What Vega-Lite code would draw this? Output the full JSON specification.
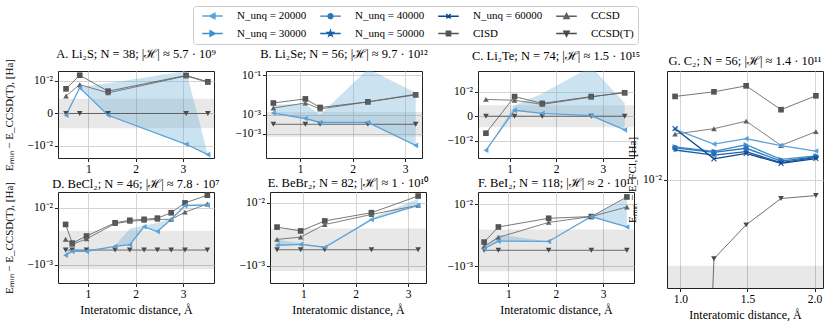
{
"$schema": "https://vega.github.io/schema/vega-lite/v6.json",
"padding": {"left": 2, "top": 5, "right": 2, "bottom": 2},
"config": {
 "font": "Liberation Serif",
 "view": {"stroke": "#222222", "strokeWidth": 1},
 "title": {"font": "Liberation Serif", "fontSize": 12.5, "fontWeight": "normal", "offset": 9, "color": "#000000"},
 "axis": {"labelFont": "Liberation Serif", "titleFont": "Liberation Serif", "labelFontSize": 11.5, "titleFontSize": 11, "titleFontWeight": "normal", "domain": false, "tickColor": "#222222", "tickSize": 3.5, "labelPadding": 2, "labelOverlap": false, "labelSeparation": -30, "labelColor": "#000000", "titleColor": "#000000", "gridColor": "#d4d4d4", "gridWidth": 1},
 "legend": {"labelFont": "Liberation Serif", "labelFontSize": 11, "labelColor": "#000000"}
},
"datasets": {
 "legend": [{"lab":"N_unq = 20000"},{"lab":"N_unq = 40000"},{"lab":"N_unq = 60000"},{"lab":"CCSD "},{"lab":"N_unq = 30000"},{"lab":"N_unq = 50000"},{"lab":"CISD "},{"lab":"CCSD(T) "}],
 "A": [
  {"x":0.53,"s":"CISD","v":0.0047},{"x":0.82,"s":"CISD","v":0.017},{"x":1.42,"s":"CISD","v":0.0037},{"x":3.07,"s":"CISD","v":0.0167},{"x":3.53,"s":"CISD","v":0.0093},
  {"x":0.53,"s":"CCSD","v":0.0022},{"x":0.82,"s":"CCSD","v":0.0071},{"x":1.42,"s":"CCSD","v":0.0031},{"x":3.07,"s":"CCSD","v":0.016},{"x":3.53,"s":"CCSD","v":0.0088},
  {"x":0.53,"s":"CCSD(T)","v":0},{"x":0.82,"s":"CCSD(T)","v":0},{"x":1.42,"s":"CCSD(T)","v":0},{"x":3.07,"s":"CCSD(T)","v":0},{"x":3.53,"s":"CCSD(T)","v":0},
  {"x":0.53,"s":"20000","v":-0.0001},{"x":0.82,"s":"20000","v":0.0052},{"x":1.42,"s":"20000","v":-0.0001},{"x":3.07,"s":"20000","v":-0.0085},{"x":3.53,"s":"20000","v":-0.022}
 ],
 "A_band": [{"x":0.53,"lo":-0.0001,"hi":0},{"x":0.82,"lo":0.0052,"hi":0.0055},{"x":1.42,"lo":-0.0001,"hi":0.008},{"x":3.07,"lo":-0.0085,"hi":0.025},{"x":3.53,"lo":-0.022,"hi":-0.022}],
 "B": [
  {"x":0.49,"s":"CISD","v":0.005},{"x":1.10,"s":"CISD","v":0.008},{"x":1.38,"s":"CISD","v":0.0029},{"x":2.29,"s":"CISD","v":0.0057},{"x":3.2,"s":"CISD","v":0.0125},
  {"x":0.49,"s":"CCSD","v":0.0027},{"x":1.10,"s":"CCSD","v":0.005},{"x":1.38,"s":"CCSD","v":0.0024},{"x":2.29,"s":"CCSD","v":0.0057},{"x":3.2,"s":"CCSD","v":0.0135},
  {"x":0.49,"s":"CCSD(T)","v":0},{"x":1.10,"s":"CCSD(T)","v":0},{"x":1.38,"s":"CCSD(T)","v":0},{"x":2.29,"s":"CCSD(T)","v":0},{"x":3.2,"s":"CCSD(T)","v":0},
  {"x":0.49,"s":"20000","v":0.00135},{"x":1.10,"s":"20000","v":0.0005},{"x":1.38,"s":"20000","v":0.000125},{"x":2.29,"s":"20000","v":0.000125},{"x":3.2,"s":"20000","v":-0.0049}
 ],
 "B_band": [{"x":0.49,"lo":0.00135,"hi":0.004},{"x":1.10,"lo":0.0005,"hi":0.0045},{"x":1.38,"lo":0.000125,"hi":0.001},{"x":2.29,"lo":0.000125,"hi":0.2},{"x":3.2,"lo":-0.0049,"hi":0.016}],
 "C": [
  {"x":0.49,"s":"CISD","v":-0.0038},{"x":1.105,"s":"CISD","v":0.0054},{"x":1.70,"s":"CISD","v":0.0021},{"x":2.75,"s":"CISD","v":0.0054},{"x":3.47,"s":"CISD","v":0.0087},
  {"x":0.49,"s":"CCSD","v":0.0037},{"x":1.105,"s":"CCSD","v":0.0033},{"x":1.70,"s":"CCSD","v":0.0018},{"x":2.75,"s":"CCSD","v":0.0051},{"x":3.47,"s":"CCSD","v":0.0095},
  {"x":0.49,"s":"CCSD(T)","v":0},{"x":1.105,"s":"CCSD(T)","v":0},{"x":1.70,"s":"CCSD(T)","v":0},{"x":2.75,"s":"CCSD(T)","v":0},{"x":3.47,"s":"CCSD(T)","v":0},
  {"x":0.49,"s":"20000","v":-0.032},{"x":1.105,"s":"20000","v":0.0006},{"x":1.70,"s":"20000","v":0.00024},{"x":2.75,"s":"20000","v":0.00005},{"x":3.47,"s":"20000","v":-0.0024}
 ],
 "C_band": [{"x":0.49,"lo":-0.032,"hi":-0.032},{"x":1.105,"lo":0.0006,"hi":0.0015},{"x":1.70,"lo":0.00024,"hi":0.008},{"x":2.75,"lo":0.00005,"hi":0.2},{"x":3.47,"lo":-0.0024,"hi":0.0022}],
 "D": [
  {"x":0.53,"s":"CISD","v":0.0028},{"x":0.67,"s":"CISD","v":0.00036},{"x":0.97,"s":"CISD","v":0.00095},{"x":1.57,"s":"CISD","v":0.0032},{"x":1.88,"s":"CISD","v":0.0039},{"x":2.18,"s":"CISD","v":0.0042},{"x":2.46,"s":"CISD","v":0.0046},{"x":2.75,"s":"CISD","v":0.0069},{"x":3.04,"s":"CISD","v":0.014},{"x":3.51,"s":"CISD","v":0.024},
  {"x":0.53,"s":"CCSD","v":0.00064},{"x":0.67,"s":"CCSD","v":0.00028},{"x":0.97,"s":"CCSD","v":0.00068},{"x":1.57,"s":"CCSD","v":0.003},{"x":1.88,"s":"CCSD","v":0.0036},{"x":2.18,"s":"CCSD","v":0.0039},{"x":2.46,"s":"CCSD","v":0.0042},{"x":2.75,"s":"CCSD","v":0.0042},{"x":3.04,"s":"CCSD","v":0.0072},{"x":3.51,"s":"CCSD","v":0.013},
  {"x":0.53,"s":"CCSD(T)","v":0},{"x":0.67,"s":"CCSD(T)","v":0},{"x":0.97,"s":"CCSD(T)","v":0},{"x":1.57,"s":"CCSD(T)","v":0},{"x":1.88,"s":"CCSD(T)","v":0},{"x":2.18,"s":"CCSD(T)","v":0},{"x":2.46,"s":"CCSD(T)","v":0},{"x":2.75,"s":"CCSD(T)","v":0},{"x":3.04,"s":"CCSD(T)","v":0},{"x":3.51,"s":"CCSD(T)","v":0},
  {"x":0.53,"s":"20000","v":-0.00025},{"x":0.67,"s":"20000","v":-0.00006},{"x":0.97,"s":"20000","v":-0.00006},{"x":1.57,"s":"20000","v":0.00017},{"x":1.88,"s":"20000","v":0.00026},{"x":2.18,"s":"20000","v":0.0023},{"x":2.46,"s":"20000","v":0.0015},{"x":2.75,"s":"20000","v":0.0042},{"x":3.04,"s":"20000","v":0.0115},{"x":3.51,"s":"20000","v":0.012}
 ],
 "D_band": [{"x":0.53,"lo":-0.00025,"hi":-0.0001},{"x":0.67,"lo":-0.00006,"hi":0},{"x":0.97,"lo":-0.00006,"hi":0},{"x":1.57,"lo":0.00017,"hi":0.0002},{"x":1.88,"lo":0.00026,"hi":0.002},{"x":2.18,"lo":0.0023,"hi":0.0025},{"x":2.46,"lo":0.0015,"hi":0.0032},{"x":2.75,"lo":0.0042,"hi":0.0045},{"x":3.04,"lo":0.0115,"hi":0.013},{"x":3.51,"lo":0.012,"hi":0.0135}],
 "E": [
  {"x":0.50,"s":"CISD","v":0.0018},{"x":0.95,"s":"CISD","v":0.0013},{"x":1.41,"s":"CISD","v":0.0029},{"x":2.30,"s":"CISD","v":0.0052},{"x":3.19,"s":"CISD","v":0.0155},
  {"x":0.50,"s":"CCSD","v":0.00053},{"x":0.95,"s":"CCSD","v":0.0007},{"x":1.41,"s":"CCSD","v":0.0022},{"x":2.30,"s":"CCSD","v":0.0046},{"x":3.19,"s":"CCSD","v":0.0085},
  {"x":0.50,"s":"CCSD(T)","v":0},{"x":0.95,"s":"CCSD(T)","v":0},{"x":1.41,"s":"CCSD(T)","v":0},{"x":2.30,"s":"CCSD(T)","v":0},{"x":3.19,"s":"CCSD(T)","v":0},
  {"x":0.50,"s":"20000","v":0.00019},{"x":0.95,"s":"20000","v":0.00023},{"x":1.41,"s":"20000","v":0.0001},{"x":2.30,"s":"20000","v":0.0032},{"x":3.19,"s":"20000","v":0.0085}
 ],
 "E_band": [{"x":0.50,"lo":0.00019,"hi":0.0005},{"x":0.95,"lo":0.00023,"hi":0.0003},{"x":1.41,"lo":0.0001,"hi":0.0001},{"x":2.30,"lo":0.0032,"hi":0.0035},{"x":3.19,"lo":0.0085,"hi":0.013}],
 "F": [
  {"x":0.49,"s":"CISD","v":0.0004},{"x":0.79,"s":"CISD","v":0.00196},{"x":1.85,"s":"CISD","v":0.0038},{"x":2.75,"s":"CISD","v":0.0043},{"x":3.50,"s":"CISD","v":0.016},
  {"x":0.49,"s":"CCSD","v":0.00016},{"x":0.79,"s":"CCSD","v":0.00074},{"x":1.85,"s":"CCSD","v":0.0028},{"x":2.75,"s":"CCSD","v":0.0043},{"x":3.50,"s":"CCSD","v":0.0083},
  {"x":0.49,"s":"CCSD(T)","v":0},{"x":0.79,"s":"CCSD(T)","v":0},{"x":1.85,"s":"CCSD(T)","v":0},{"x":2.75,"s":"CCSD(T)","v":0},{"x":3.50,"s":"CCSD(T)","v":0},
  {"x":0.49,"s":"20000","v":0.00006},{"x":0.79,"s":"20000","v":0.00046},{"x":1.85,"s":"20000","v":0.00044},{"x":2.75,"s":"20000","v":0.0043},{"x":3.50,"s":"20000","v":0.00196}
 ],
 "F_band": [{"x":0.49,"lo":0.00006,"hi":0.0001},{"x":0.79,"lo":0.00046,"hi":0.001},{"x":1.85,"lo":0.00044,"hi":0.00044},{"x":2.75,"lo":0.0043,"hi":0.0043},{"x":3.50,"lo":0.00196,"hi":0.015}],
 "G": [
  {"x":0.96,"s":"CISD","v":0.0583},{"x":1.25,"s":"CISD","v":0.0643},{"x":1.49,"s":"CISD","v":0.073},{"x":1.75,"s":"CISD","v":0.044},{"x":2.01,"s":"CISD","v":0.0591},
  {"x":0.96,"s":"CCSD","v":0.0262},{"x":1.25,"s":"CCSD","v":0.0294},{"x":1.49,"s":"CCSD","v":0.0345},{"x":1.75,"s":"CCSD","v":0.0206},{"x":2.01,"s":"CCSD","v":0.0276},
  {"x":0.96,"s":"CCSD(T)","v":1e-12},{"x":1.25,"s":"CCSD(T)","v":0.00186},{"x":1.49,"s":"CCSD(T)","v":0.00382},{"x":1.75,"s":"CCSD(T)","v":0.00668},{"x":2.01,"s":"CCSD(T)","v":0.00711},
  {"x":0.96,"s":"20000","v":0.029},{"x":1.25,"s":"20000","v":0.0212},{"x":1.49,"s":"20000","v":0.0238},{"x":1.75,"s":"20000","v":0.0205},{"x":2.01,"s":"20000","v":0.0183},
  {"x":0.96,"s":"30000","v":0.020},{"x":1.25,"s":"30000","v":0.01815},{"x":1.49,"s":"30000","v":0.0209},{"x":1.75,"s":"30000","v":0.0153},{"x":2.01,"s":"30000","v":0.0165},
  {"x":0.96,"s":"40000","v":0.0196},{"x":1.25,"s":"40000","v":0.0178},{"x":1.49,"s":"40000","v":0.0194},{"x":1.75,"s":"40000","v":0.0148},{"x":2.01,"s":"40000","v":0.0162},
  {"x":0.96,"s":"50000","v":0.0187},{"x":1.25,"s":"50000","v":0.0168},{"x":1.49,"s":"50000","v":0.0181},{"x":1.75,"s":"50000","v":0.0143},{"x":2.01,"s":"50000","v":0.0160},
  {"x":0.96,"s":"60000","v":0.0294},{"x":1.25,"s":"60000","v":0.0155},{"x":1.49,"s":"60000","v":0.0174},{"x":1.75,"s":"60000","v":0.0141},{"x":2.01,"s":"60000","v":0.0156}
 ]
},
"spacing": -15,
"align": "each",
"hconcat": [
 {"vconcat": [
  {"hconcat": [
   {"title": {"text": "A. Li₂S; N = 38; |ℋ| ≈ 5.7 · 10⁹", "offset": -2}, "width": 156, "height": 87,
    "layer": [
     {"data": {"values": [{"lo": -0.0016, "hi": 0.0016}]}, "mark": {"type": "rect", "color": "#000000", "opacity": 0.09},
      "encoding": {"y": {"field": "lo", "type": "quantitative", "scale": {"type": "symlog", "constant": 0.0006, "domain": [-0.03, 0.022]}, "axis": {"values": [-0.01,-0.001,0,0.001,0.01], "labelOverlap": false, "labelExpr": "datum.value == 0 ? '0' : (datum.value < 0 ? '−' : '') + '10' + (abs(datum.value) > 0.05 ? '⁻¹' : abs(datum.value) > 0.005 ? '⁻²' : '⁻³')", "title": "Eₘᵢₙ − E_CCSD(T), [Ha]", "titlePadding": 13}}, "y2": {"field": "hi"}}},
     {"data": {"name": "A_band"}, "mark": {"type": "area", "color": "#6baed6", "opacity": 0.35, "clip": true},
      "encoding": {"x": {"field": "x", "type": "quantitative", "scale": {"domain": [0.36, 3.66], "nice": false, "zero": false}, "axis": {"values": [1,2,3], "format": "d", "title": null}}, "y": {"field": "lo", "type": "quantitative"}, "y2": {"field": "hi"}}},
     {"data": {"name": "A"}, "mark": {"type": "line", "clip": true},
      "encoding": {"x": {"field": "x", "type": "quantitative"}, "y": {"field": "v", "type": "quantitative"},
       "color": {"field": "s", "type": "nominal", "legend": null, "scale": {"domain": ["20000","40000","60000","CCSD","30000","50000","CISD","CCSD(T)"], "range": ["#5aa2d8","#2b76ba","#0d4590","#606060","#4090cc","#1d60a8","#555555","#4a4a4a"]}},
       "strokeWidth": {"condition": {"test": "datum.s === 'CISD' || datum.s === 'CCSD' || datum.s === 'CCSD(T)'", "value": 0.8}, "value": 1.3}}},
     {"data": {"name": "A"}, "mark": {"type": "point", "filled": true, "opacity": 1, "size": 32, "clip": true},
      "encoding": {"x": {"field": "x", "type": "quantitative"}, "y": {"field": "v", "type": "quantitative"},
       "color": {"field": "s", "type": "nominal", "legend": null, "scale": {"domain": ["20000","40000","60000","CCSD","30000","50000","CISD","CCSD(T)"], "range": ["#5aa2d8","#2b76ba","#0d4590","#606060","#4090cc","#1d60a8","#555555","#4a4a4a"]}},
       "shape": {"field": "s", "type": "nominal", "scale": {"domain": ["20000","40000","60000","CCSD","30000","50000","CISD","CCSD(T)","N_unq = 20000","N_unq = 40000","N_unq = 60000","CCSD ","N_unq = 30000","N_unq = 50000","CISD ","CCSD(T) "], "range": ["triangle-left","circle","M-1,-0.75L-0.75,-1L0,-0.25L0.75,-1L1,-0.75L0.25,0L1,0.75L0.75,1L0,0.25L-0.75,1L-1,0.75L-0.25,0Z","triangle-up","triangle-right","M0,-1L0.235,-0.324L0.951,-0.309L0.38,0.124L0.588,0.809L0,0.4L-0.588,0.809L-0.38,0.124L-0.951,-0.309L-0.235,-0.324Z","square","triangle-down","M-2.3,0H2.3M-0.65,0L0.55,-0.65L0.55,0.65Z","M-2.3,0H2.3M-0.55,0A0.55,0.55,0,1,1,0.55,0A0.55,0.55,0,1,1,-0.55,0Z","M-2.3,0H2.3M-0.5,-0.5L0.5,0.5M-0.5,0.5L0.5,-0.5","M-2.3,0H2.3M0,-0.65L0.62,0.5L-0.62,0.5Z","M-2.3,0H2.3M0.65,0L-0.55,-0.65L-0.55,0.65Z","M-2.3,0H2.3M0,-0.7L0.16,-0.22L0.67,-0.22L0.25,0.08L0.41,0.57L0,0.27L-0.41,0.57L-0.25,0.08L-0.67,-0.22L-0.16,-0.22Z","M-2.3,0H2.3M-0.5,-0.5H0.5V0.5H-0.5Z","M-2.3,0H2.3M0,0.65L0.62,-0.5L-0.62,-0.5Z"]}}}}
    ]},
   {"title": "B. Li₂Se; N = 56; |ℋ| ≈ 9.7 · 10¹²", "width": 156, "height": 87,
    "layer": [
     {"data": {"values": [{"lo": -0.0016, "hi": 0.0016}]}, "mark": {"type": "rect", "color": "#000000", "opacity": 0.09},
      "encoding": {"y": {"field": "lo", "type": "quantitative", "scale": {"type": "symlog", "constant": 0.0006, "domain": [-0.008, 0.15]}, "axis": {"values": [-0.001,0,0.001,0.01,0.1], "labelOverlap": false, "labelExpr": "datum.value == 0 ? '0' : (datum.value < 0 ? '−' : '') + '10' + (abs(datum.value) > 0.05 ? '⁻¹' : abs(datum.value) > 0.005 ? '⁻²' : '⁻³')", "title": null}}, "y2": {"field": "hi"}}},
     {"data": {"name": "B_band"}, "mark": {"type": "area", "color": "#6baed6", "opacity": 0.35, "clip": true},
      "encoding": {"x": {"field": "x", "type": "quantitative", "scale": {"domain": [0.35, 3.32], "nice": false, "zero": false}, "axis": {"values": [1,2,3], "format": "d", "title": null}}, "y": {"field": "lo", "type": "quantitative"}, "y2": {"field": "hi"}}},
     {"data": {"name": "B"}, "mark": {"type": "line", "clip": true},
      "encoding": {"x": {"field": "x", "type": "quantitative"}, "y": {"field": "v", "type": "quantitative"},
       "color": {"field": "s", "type": "nominal", "legend": null, "scale": {"domain": ["20000","40000","60000","CCSD","30000","50000","CISD","CCSD(T)"], "range": ["#5aa2d8","#2b76ba","#0d4590","#606060","#4090cc","#1d60a8","#555555","#4a4a4a"]}},
       "strokeWidth": {"condition": {"test": "datum.s === 'CISD' || datum.s === 'CCSD' || datum.s === 'CCSD(T)'", "value": 0.8}, "value": 1.3}}},
     {"data": {"name": "B"}, "mark": {"type": "point", "filled": true, "opacity": 1, "size": 32, "clip": true},
      "encoding": {"x": {"field": "x", "type": "quantitative"}, "y": {"field": "v", "type": "quantitative"},
       "color": {"field": "s", "type": "nominal", "legend": null, "scale": {"domain": ["20000","40000","60000","CCSD","30000","50000","CISD","CCSD(T)"], "range": ["#5aa2d8","#2b76ba","#0d4590","#606060","#4090cc","#1d60a8","#555555","#4a4a4a"]}},
       "shape": {"field": "s", "type": "nominal"}}}
    ]},
   {"title": "C. Li₂Te; N = 74; |ℋ| ≈ 1.5 · 10¹⁵", "width": 156, "height": 87,
    "layer": [
     {"data": {"values": [{"lo": -0.0016, "hi": 0.0016}]}, "mark": {"type": "rect", "color": "#000000", "opacity": 0.09},
      "encoding": {"y": {"field": "lo", "type": "quantitative", "scale": {"type": "symlog", "constant": 0.0006, "domain": [-0.075, 0.105]}, "axis": {"values": [-0.01,-0.001,0,0.001,0.01,0.1], "labelOverlap": false, "labelExpr": "datum.value == 0 ? '0' : (datum.value < 0 ? '−' : '') + '10' + (abs(datum.value) > 0.05 ? '⁻¹' : abs(datum.value) > 0.005 ? '⁻²' : '⁻³')", "title": null}}, "y2": {"field": "hi"}}},
     {"data": {"name": "C_band"}, "mark": {"type": "area", "color": "#6baed6", "opacity": 0.35, "clip": true},
      "encoding": {"x": {"field": "x", "type": "quantitative", "scale": {"domain": [0.32, 3.67], "nice": false, "zero": false}, "axis": {"values": [1,2,3], "format": "d", "title": null}}, "y": {"field": "lo", "type": "quantitative"}, "y2": {"field": "hi"}}},
     {"data": {"name": "C"}, "mark": {"type": "line", "clip": true},
      "encoding": {"x": {"field": "x", "type": "quantitative"}, "y": {"field": "v", "type": "quantitative"},
       "color": {"field": "s", "type": "nominal", "legend": null, "scale": {"domain": ["20000","40000","60000","CCSD","30000","50000","CISD","CCSD(T)"], "range": ["#5aa2d8","#2b76ba","#0d4590","#606060","#4090cc","#1d60a8","#555555","#4a4a4a"]}},
       "strokeWidth": {"condition": {"test": "datum.s === 'CISD' || datum.s === 'CCSD' || datum.s === 'CCSD(T)'", "value": 0.8}, "value": 1.3}}},
     {"data": {"name": "C"}, "mark": {"type": "point", "filled": true, "opacity": 1, "size": 32, "clip": true},
      "encoding": {"x": {"field": "x", "type": "quantitative"}, "y": {"field": "v", "type": "quantitative"},
       "color": {"field": "s", "type": "nominal", "legend": null, "scale": {"domain": ["20000","40000","60000","CCSD","30000","50000","CISD","CCSD(T)"], "range": ["#5aa2d8","#2b76ba","#0d4590","#606060","#4090cc","#1d60a8","#555555","#4a4a4a"]}},
       "shape": {"field": "s", "type": "nominal"}}}
    ]}
  ], "spacing": 17},
  {"hconcat": [
   {"title": {"text": "D. BeCl₂; N = 46; |ℋ| ≈ 7.8 · 10⁷", "offset": -9}, "width": 156, "height": 91,
    "layer": [
     {"data": {"values": [{"lo": -0.0016, "hi": 0.0016}]}, "mark": {"type": "rect", "color": "#000000", "opacity": 0.09},
      "encoding": {"y": {"field": "lo", "type": "quantitative", "scale": {"type": "symlog", "constant": 0.0006, "domain": [-0.003, 0.029]}, "axis": {"values": [-0.001,0,0.001,0.01], "labelOverlap": false, "labelExpr": "datum.value == 0 ? '0' : (datum.value < 0 ? '−' : '') + '10' + (abs(datum.value) > 0.05 ? '⁻¹' : abs(datum.value) > 0.005 ? '⁻²' : '⁻³')", "title": "Eₘᵢₙ − E_CCSD(T), [Ha]", "titlePadding": 13}}, "y2": {"field": "hi"}}},
     {"data": {"name": "D_band"}, "mark": {"type": "area", "color": "#6baed6", "opacity": 0.35, "clip": true},
      "encoding": {"x": {"field": "x", "type": "quantitative", "scale": {"domain": [0.37, 3.65], "nice": false, "zero": false}, "axis": {"values": [1,2,3], "format": "d", "title": "Interatomic distance, Å", "titleFontSize": 12}}, "y": {"field": "lo", "type": "quantitative"}, "y2": {"field": "hi"}}},
     {"data": {"name": "D"}, "mark": {"type": "line", "clip": true},
      "encoding": {"x": {"field": "x", "type": "quantitative"}, "y": {"field": "v", "type": "quantitative"},
       "color": {"field": "s", "type": "nominal", "legend": null, "scale": {"domain": ["20000","40000","60000","CCSD","30000","50000","CISD","CCSD(T)"], "range": ["#5aa2d8","#2b76ba","#0d4590","#606060","#4090cc","#1d60a8","#555555","#4a4a4a"]}},
       "strokeWidth": {"condition": {"test": "datum.s === 'CISD' || datum.s === 'CCSD' || datum.s === 'CCSD(T)'", "value": 0.8}, "value": 1.3}}},
     {"data": {"name": "D"}, "mark": {"type": "point", "filled": true, "opacity": 1, "size": 32, "clip": true},
      "encoding": {"x": {"field": "x", "type": "quantitative"}, "y": {"field": "v", "type": "quantitative"},
       "color": {"field": "s", "type": "nominal", "legend": null, "scale": {"domain": ["20000","40000","60000","CCSD","30000","50000","CISD","CCSD(T)"], "range": ["#5aa2d8","#2b76ba","#0d4590","#606060","#4090cc","#1d60a8","#555555","#4a4a4a"]}},
       "shape": {"field": "s", "type": "nominal"}}}
    ]},
   {"title": {"text": "E. BeBr₂; N = 82; |ℋ| ≈ 1 · 10¹⁰", "offset": 3}, "width": 156, "height": 91,
    "layer": [
     {"data": {"values": [{"lo": -0.0016, "hi": 0.0016}]}, "mark": {"type": "rect", "color": "#000000", "opacity": 0.09},
      "encoding": {"y": {"field": "lo", "type": "quantitative", "scale": {"type": "symlog", "constant": 0.0006, "domain": [-0.0027, 0.0196]}, "axis": {"values": [-0.001,0,0.001,0.01], "labelOverlap": false, "labelExpr": "datum.value == 0 ? '0' : (datum.value < 0 ? '−' : '') + '10' + (abs(datum.value) > 0.05 ? '⁻¹' : abs(datum.value) > 0.005 ? '⁻²' : '⁻³')", "title": null}}, "y2": {"field": "hi"}}},
     {"data": {"name": "E_band"}, "mark": {"type": "area", "color": "#6baed6", "opacity": 0.35, "clip": true},
      "encoding": {"x": {"field": "x", "type": "quantitative", "scale": {"domain": [0.366, 3.34], "nice": false, "zero": false}, "axis": {"values": [1,2,3], "format": "d", "title": "Interatomic distance, Å", "titleFontSize": 12}}, "y": {"field": "lo", "type": "quantitative"}, "y2": {"field": "hi"}}},
     {"data": {"name": "E"}, "mark": {"type": "line", "clip": true},
      "encoding": {"x": {"field": "x", "type": "quantitative"}, "y": {"field": "v", "type": "quantitative"},
       "color": {"field": "s", "type": "nominal", "legend": null, "scale": {"domain": ["20000","40000","60000","CCSD","30000","50000","CISD","CCSD(T)"], "range": ["#5aa2d8","#2b76ba","#0d4590","#606060","#4090cc","#1d60a8","#555555","#4a4a4a"]}},
       "strokeWidth": {"condition": {"test": "datum.s === 'CISD' || datum.s === 'CCSD' || datum.s === 'CCSD(T)'", "value": 0.8}, "value": 1.3}}},
     {"data": {"name": "E"}, "mark": {"type": "point", "filled": true, "opacity": 1, "size": 32, "clip": true},
      "encoding": {"x": {"field": "x", "type": "quantitative"}, "y": {"field": "v", "type": "quantitative"},
       "color": {"field": "s", "type": "nominal", "legend": null, "scale": {"domain": ["20000","40000","60000","CCSD","30000","50000","CISD","CCSD(T)"], "range": ["#5aa2d8","#2b76ba","#0d4590","#606060","#4090cc","#1d60a8","#555555","#4a4a4a"]}},
       "shape": {"field": "s", "type": "nominal"}}}
    ]},
   {"title": {"text": "F. BeI₂; N = 118; |ℋ| ≈ 2 · 10¹¹", "offset": 3}, "width": 156, "height": 91,
    "layer": [
     {"data": {"values": [{"lo": -0.0016, "hi": 0.0016}]}, "mark": {"type": "rect", "color": "#000000", "opacity": 0.09},
      "encoding": {"y": {"field": "lo", "type": "quantitative", "scale": {"type": "symlog", "constant": 0.0006, "domain": [-0.003, 0.0207]}, "axis": {"values": [-0.001,0,0.001,0.01], "labelOverlap": false, "labelExpr": "datum.value == 0 ? '0' : (datum.value < 0 ? '−' : '') + '10' + (abs(datum.value) > 0.05 ? '⁻¹' : abs(datum.value) > 0.005 ? '⁻²' : '⁻³')", "title": null}}, "y2": {"field": "hi"}}},
     {"data": {"name": "F_band"}, "mark": {"type": "area", "color": "#6baed6", "opacity": 0.35, "clip": true},
      "encoding": {"x": {"field": "x", "type": "quantitative", "scale": {"domain": [0.36, 3.65], "nice": false, "zero": false}, "axis": {"values": [1,2,3], "format": "d", "title": "Interatomic distance, Å", "titleFontSize": 12}}, "y": {"field": "lo", "type": "quantitative"}, "y2": {"field": "hi"}}},
     {"data": {"name": "F"}, "mark": {"type": "line", "clip": true},
      "encoding": {"x": {"field": "x", "type": "quantitative"}, "y": {"field": "v", "type": "quantitative"},
       "color": {"field": "s", "type": "nominal", "legend": null, "scale": {"domain": ["20000","40000","60000","CCSD","30000","50000","CISD","CCSD(T)"], "range": ["#5aa2d8","#2b76ba","#0d4590","#606060","#4090cc","#1d60a8","#555555","#4a4a4a"]}},
       "strokeWidth": {"condition": {"test": "datum.s === 'CISD' || datum.s === 'CCSD' || datum.s === 'CCSD(T)'", "value": 0.8}, "value": 1.3}}},
     {"data": {"name": "F"}, "mark": {"type": "point", "filled": true, "opacity": 1, "size": 32, "clip": true},
      "encoding": {"x": {"field": "x", "type": "quantitative"}, "y": {"field": "v", "type": "quantitative"},
       "color": {"field": "s", "type": "nominal", "legend": null, "scale": {"domain": ["20000","40000","60000","CCSD","30000","50000","CISD","CCSD(T)"], "range": ["#5aa2d8","#2b76ba","#0d4590","#606060","#4090cc","#1d60a8","#555555","#4a4a4a"]}},
       "shape": {"field": "s", "type": "nominal"}}}
    ]}
  ], "spacing": 17}
 ], "spacing": 0},
 {"title": {"text": "G. C₂; N = 56; |ℋ| ≈ 1.4 · 10¹¹", "offset": 4}, "width": 156, "height": 217,
  "layer": [
   {"data": {"values": [{"lo": 0.000001, "hi": 0.0016}]}, "mark": {"type": "rect", "color": "#000000", "opacity": 0.09, "clip": true},
    "encoding": {"y": {"field": "lo", "type": "quantitative", "scale": {"type": "log", "domain": [0.001345, 0.0874]}, "axis": {"values": [0.01], "labelExpr": "'10⁻²'", "title": "Eₘᵢₙ − E_FCI, [Ha]", "titlePadding": 5}}, "y2": {"field": "hi"}}},
   {"data": {"name": "G"}, "mark": {"type": "line", "clip": true},
    "encoding": {"x": {"field": "x", "type": "quantitative", "scale": {"domain": [0.9, 2.063], "nice": false, "zero": false}, "axis": {"values": [1, 1.5, 2], "format": ".1f", "title": "Interatomic distance, Å", "titleFontSize": 12}}, "y": {"field": "v", "type": "quantitative"},
     "color": {"field": "s", "type": "nominal", "legend": null, "scale": {"domain": ["20000","40000","60000","CCSD","30000","50000","CISD","CCSD(T)"], "range": ["#5aa2d8","#2b76ba","#0d4590","#606060","#4090cc","#1d60a8","#555555","#4a4a4a"]}},
     "strokeWidth": {"condition": {"test": "datum.s === 'CISD' || datum.s === 'CCSD' || datum.s === 'CCSD(T)'", "value": 0.8}, "value": 1.3}}},
   {"data": {"name": "G"}, "mark": {"type": "point", "filled": true, "opacity": 1, "size": 32, "clip": true},
    "encoding": {"x": {"field": "x", "type": "quantitative"}, "y": {"field": "v", "type": "quantitative"},
     "color": {"field": "s", "type": "nominal", "legend": null, "scale": {"domain": ["20000","40000","60000","CCSD","30000","50000","CISD","CCSD(T)"], "range": ["#5aa2d8","#2b76ba","#0d4590","#606060","#4090cc","#1d60a8","#555555","#4a4a4a"]}},
     "shape": {"field": "s", "type": "nominal"}}},
   {"data": {"name": "legend"}, "mark": {"type": "point", "filled": true, "opacity": 0, "size": 30},
    "encoding": {
     "shape": {"field": "lab", "type": "nominal",
      "legend": {"values": ["N_unq = 20000","N_unq = 40000","N_unq = 60000","CCSD ","N_unq = 30000","N_unq = 50000","CISD ","CCSD(T) "], "orient": "none", "legendX": 135, "legendY": -65, "direction": "horizontal", "columns": 4, "gridAlign": "each", "title": null, "labelFont": "Liberation Serif", "labelFontSize": 11, "symbolSize": 80, "symbolOffset": 10, "labelOffset": 19, "columnPadding": 8, "rowPadding": 5, "padding": 4, "strokeColor": "#cccccc", "fillColor": "#ffffff", "cornerRadius": 3, "symbolStrokeWidth": 1.3, "symbolOpacity": 1}},
     "fill": {"field": "lab", "type": "nominal",
      "scale": {"domain": ["20000","40000","60000","CCSD","30000","50000","CISD","CCSD(T)","N_unq = 20000","N_unq = 40000","N_unq = 60000","CCSD ","N_unq = 30000","N_unq = 50000","CISD ","CCSD(T) "], "range": ["#5aa2d8","#2b76ba","#0d4590","#606060","#4090cc","#1d60a8","#555555","#4a4a4a","#5aa2d8","#2b76ba","#0d4590","#606060","#4090cc","#1d60a8","#555555","#4a4a4a"]},
      "legend": {"values": ["N_unq = 20000","N_unq = 40000","N_unq = 60000","CCSD ","N_unq = 30000","N_unq = 50000","CISD ","CCSD(T) "], "orient": "none", "legendX": 135, "legendY": -65, "direction": "horizontal", "columns": 4, "gridAlign": "each", "title": null, "labelFont": "Liberation Serif", "labelFontSize": 11, "symbolSize": 80, "symbolOffset": 10, "labelOffset": 19, "columnPadding": 8, "rowPadding": 5, "padding": 4, "strokeColor": "#cccccc", "fillColor": "#ffffff", "cornerRadius": 3, "symbolStrokeWidth": 1.3, "symbolOpacity": 1}},
     "stroke": {"field": "lab", "type": "nominal",
      "scale": {"domain": ["20000","40000","60000","CCSD","30000","50000","CISD","CCSD(T)","N_unq = 20000","N_unq = 40000","N_unq = 60000","CCSD ","N_unq = 30000","N_unq = 50000","CISD ","CCSD(T) "], "range": ["#5aa2d8","#2b76ba","#0d4590","#606060","#4090cc","#1d60a8","#555555","#4a4a4a","#5aa2d8","#2b76ba","#0d4590","#606060","#4090cc","#1d60a8","#555555","#4a4a4a"]},
      "legend": {"values": ["N_unq = 20000","N_unq = 40000","N_unq = 60000","CCSD ","N_unq = 30000","N_unq = 50000","CISD ","CCSD(T) "], "orient": "none", "legendX": 135, "legendY": -65, "direction": "horizontal", "columns": 4, "gridAlign": "each", "title": null, "labelFont": "Liberation Serif", "labelFontSize": 11, "symbolSize": 80, "symbolOffset": 10, "labelOffset": 19, "columnPadding": 8, "rowPadding": 5, "padding": 4, "strokeColor": "#cccccc", "fillColor": "#ffffff", "cornerRadius": 3, "symbolStrokeWidth": 1.3, "symbolOpacity": 1}}}}
  ]}
]
}
